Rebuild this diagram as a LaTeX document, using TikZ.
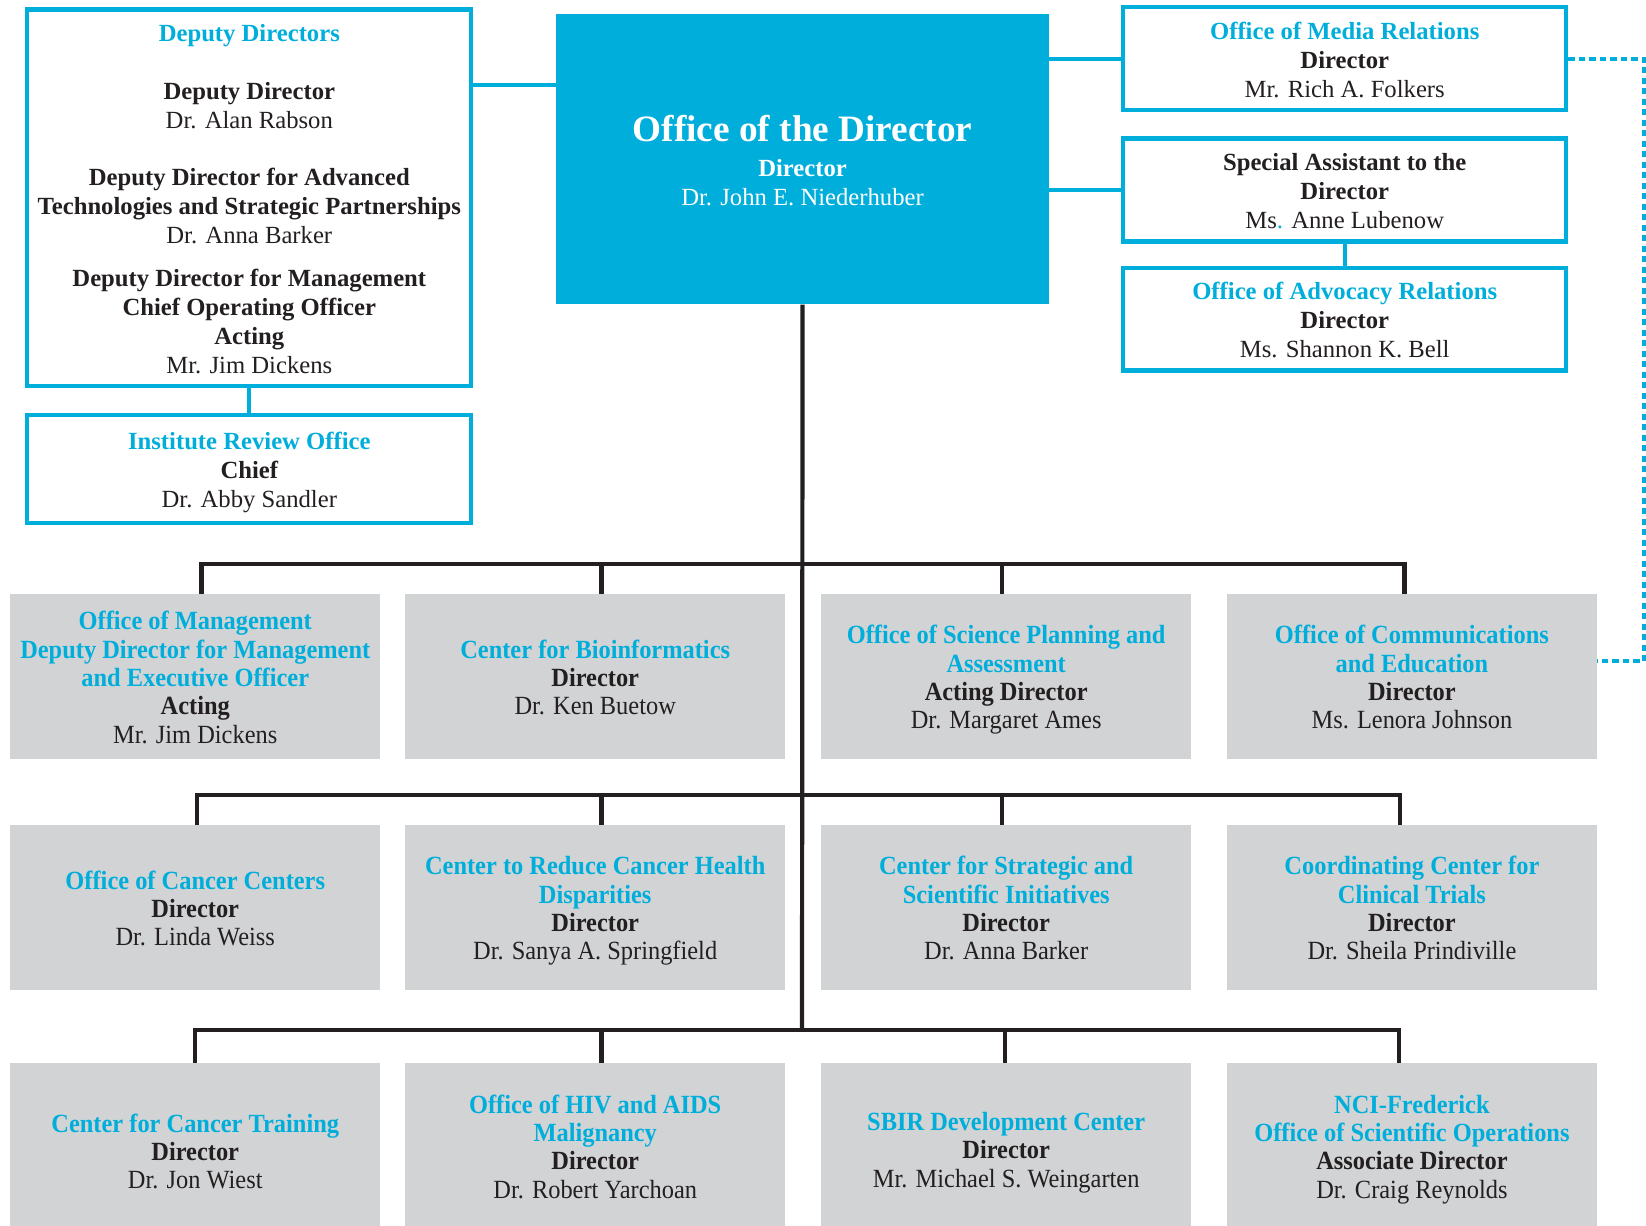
\documentclass[tikz,border=0pt]{standalone}
\usepackage{fontspec}
\setmainfont{Liberation Serif}
\usepackage{graphicx}
\usetikzlibrary{calc}
\definecolor{nciblue}{RGB}{0,174,219}
\definecolor{ncigray}{RGB}{209,211,212}
\definecolor{ink}{RGB}{35,31,32}
\newcommand\cyt[1]{{\bfseries\color{nciblue}#1}}
\newcommand\blt[1]{{\bfseries #1}}
\newcommand\gtx[2][-4pt]{\raisebox{#1}[\height][\depth]{\scalebox{0.93}[1]{\begin{tabular}{@{}c@{}}#2\end{tabular}}}}
\newcommand\wtx[2][-3.5pt]{\raisebox{#1}[\height][\depth]{\begin{tabular}{@{}c@{}}#2\end{tabular}}}
\tikzset{
  x=1pt, y=-1pt,
  outbox/.style={draw=nciblue, line width=4pt, fill=white, inner sep=0pt, text=ink,
    font=\fontsize{23.5}{27.5}\selectfont, minimum width=422pt, minimum height=98pt},
  graybox/.style={fill=ncigray, inner sep=0pt, text=ink,
    font=\fontsize{25}{27}\selectfont, minimum height=157pt},
  dirbox/.style={fill=nciblue, inner sep=0pt, text=white,
    font=\fontsize{23.5}{27}\selectfont, minimum width=469pt, minimum height=277pt},
  link/.style={draw=nciblue, line width=4pt},
  tree/.style={draw=ink, line width=4pt, line join=miter},
  dotlink/.style={draw=nciblue, line width=4pt, dash pattern=on 6pt off 4pt}
}
\begin{document}
\begin{tikzpicture}
\useasboundingbox (0,0) rectangle (1568,1167);

% top boxes
\node[outbox, minimum width=423pt, minimum height=359pt] (dep) at (237.5,188.5) {\wtx{%
  \cyt{Deputy Directors}\\[28pt]
  \blt{Deputy Director}\\
  Dr. Alan Rabson\\[27pt]
  \blt{Deputy Director for Advanced}\\
  \blt{Technologies and Strategic Partnerships}\\
  Dr. Anna Barker\\[14pt]
  \blt{Deputy Director for Management}\\
  \blt{Chief Operating Officer}\\
  \blt{Acting}\\
  Mr. Jim Dickens}};
\node[outbox, minimum width=423pt, minimum height=103pt] (iro) at (237.5,446.5) {\wtx{%
  \cyt{Institute Review Office}\\
  \blt{Chief}\\
  Dr. Abby Sandler}};

\node[dirbox] (dir) at (764.5,151.5) {\wtx[-5pt]{%
  {\fontsize{35.5}{37}\selectfont\bfseries Office of the Director}\\[7pt]
  \blt{Director}\\
  Dr. John E. Niederhuber}};

\node[outbox] (med) at (1281,56) {\wtx{%
  \cyt{Office of Media Relations}\\
  \blt{Director}\\
  Mr. Rich A. Folkers}};
\node[outbox] (sa) at (1281,181) {\wtx{%
  \blt{Special Assistant to the}\\
  \blt{Director}\\
  Ms{\color{nciblue}.} Anne Lubenow}};
\node[outbox] (adv) at (1281,304) {\wtx{%
  \cyt{Office of Advocacy Relations}\\
  \blt{Director}\\
  Ms. Shannon K. Bell}};

% row 1
\node[graybox, minimum width=352pt] (g11) at (186,644.5) {\gtx{%
  \cyt{Office of Management}\\
  \cyt{Deputy Director for Management}\\
  \cyt{and Executive Officer}\\
  \blt{Acting}\\
  Mr. Jim Dickens}};
\node[graybox, minimum width=362pt] (g12) at (567,644.5) {\gtx{%
  \cyt{Center for Bioinformatics}\\
  \blt{Director}\\
  Dr. Ken Buetow}};
\node[graybox, minimum width=353pt] (g13) at (958.5,644.5) {\gtx{%
  \cyt{Office of Science Planning and}\\
  \cyt{Assessment}\\
  \blt{Acting Director}\\
  Dr. Margaret Ames}};
\node[graybox, minimum width=352pt] (g14) at (1345,644.5) {\gtx{%
  \cyt{Office of Communications}\\
  \cyt{and Education}\\
  \blt{Director}\\
  Ms. Lenora Johnson}};

% row 2
\node[graybox, minimum width=352pt] (g21) at (186,864.5) {\gtx{%
  \cyt{Office of Cancer Centers}\\
  \blt{Director}\\
  Dr. Linda Weiss}};
\node[graybox, minimum width=362pt] (g22) at (567,864.5) {\gtx{%
  \cyt{Center to Reduce Cancer Health}\\
  \cyt{Disparities}\\
  \blt{Director}\\
  Dr. Sanya A. Springfield}};
\node[graybox, minimum width=353pt] (g23) at (958.5,864.5) {\gtx{%
  \cyt{Center for Strategic and}\\
  \cyt{Scientific Initiatives}\\
  \blt{Director}\\
  Dr. Anna Barker}};
\node[graybox, minimum width=352pt] (g24) at (1345,864.5) {\gtx{%
  \cyt{Coordinating Center for}\\
  \cyt{Clinical Trials}\\
  \blt{Director}\\
  Dr. Sheila Prindiville}};

% row 3
\node[graybox, minimum width=352pt] (g31) at (186,1091.5) {\gtx[-8.5pt]{%
  \cyt{Center for Cancer Training}\\
  \blt{Director}\\
  Dr. Jon Wiest}};
\node[graybox, minimum width=362pt] (g32) at (567,1091.5) {\gtx{%
  \cyt{Office of HIV and AIDS}\\
  \cyt{Malignancy}\\
  \blt{Director}\\
  Dr. Robert Yarchoan}};
\node[graybox, minimum width=353pt] (g33) at (958.5,1091.5) {\gtx[-7pt]{%
  \cyt{SBIR Development Center}\\
  \blt{Director}\\
  Mr. Michael S. Weingarten}};
\node[graybox, minimum width=352pt] (g34) at (1345,1091.5) {\gtx{%
  \cyt{NCI-Frederick}\\
  \cyt{Office of Scientific Operations}\\
  \blt{Associate Director}\\
  Dr. Craig Reynolds}};

% cyan connectors
\draw[link] ([yshift=70.5pt]dir.west) -- ([yshift=70.5pt]dir.west -| dep.east);
\draw[link] (dep.south) -- (iro.north);
\draw[link] (med.west) -- (med.west -| dir.east);
\draw[link] (sa.west) -- (sa.west -| dir.east);
\draw[link] (sa.south) -- (adv.north);

% dotted link
\coordinate (dc) at (1566,0);
\coordinate (cm) at ([yshift=14.5pt]g14.east);
\draw[dotlink] (med.east) -- (med.east -| dc) -- (dc |- cm) -- (cm);

% tree
\coordinate (b1) at (764,537);
\coordinate (b2) at (764,757);
\coordinate (b3) at (764,981);
\draw[tree] (dir.south) -- (b3);
\draw[tree] ([xshift=6pt]g11.north) -- ([xshift=6pt]g11.north |- b1) -- ([xshift=-7pt]g14.north |- b1) -- ([xshift=-7pt]g14.north);
\draw[tree] ([xshift=6pt]g12.north) -- ([xshift=6pt]g12.north |- b1);
\draw[tree] ([xshift=-4pt]g13.north) -- ([xshift=-4pt]g13.north |- b1);
\draw[tree] ([xshift=2pt]g21.north) -- ([xshift=2pt]g21.north |- b2) -- ([xshift=-11pt]g24.north |- b2) -- ([xshift=-11pt]g24.north);
\draw[tree] ([xshift=6pt]g22.north) -- ([xshift=6pt]g22.north |- b2);
\draw[tree] ([xshift=-4pt]g23.north) -- ([xshift=-4pt]g23.north |- b2);
\draw[tree] (g31.north) -- (g31.north |- b3) -- ([xshift=-12pt]g34.north |- b3) -- ([xshift=-12pt]g34.north);
\draw[tree] ([xshift=6pt]g32.north) -- ([xshift=6pt]g32.north |- b3);
\draw[tree] ([xshift=-1pt]g33.north) -- ([xshift=-1pt]g33.north |- b3);
\end{tikzpicture}
\end{document}
